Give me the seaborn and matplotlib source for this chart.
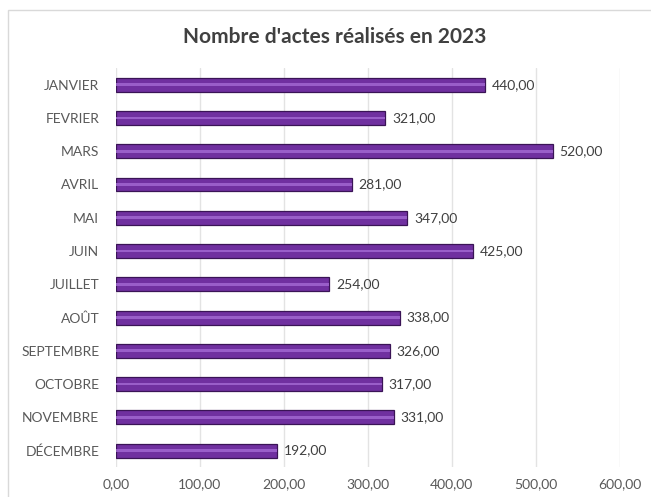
import matplotlib
matplotlib.use("Agg")
import matplotlib.pyplot as plt
import seaborn as sns
import pandas as pd
from matplotlib.patches import Rectangle

# Data
mois = ['JANVIER', 'FEVRIER', 'MARS', 'AVRIL', 'MAI', 'JUIN', 'JUILLET',
        'AOÛT', 'SEPTEMBRE', 'OCTOBRE', 'NOVEMBRE', 'DÉCEMBRE']
actes = [440, 321, 520, 281, 347, 425, 254, 338, 326, 317, 331, 192]
x_ticks = [0, 100, 200, 300, 400, 500, 600]

df = pd.DataFrame({'Mois': mois, 'Actes': actes})

sns.set_theme(style="white")
plt.rcParams['font.family'] = ['Lato', 'DejaVu Sans']

fig = plt.figure(figsize=(6.51, 4.97), dpi=100)
ax = fig.add_axes([0.178, 0.060, 0.774, 0.803])

# chart border
fig.patches.append(Rectangle((8 / 651, -0.1), 1.2, 1 - 10 / 497 + 0.1,
                             transform=fig.transFigure, fill=False,
                             edgecolor='#d9d9d9', linewidth=1))

# main bars + lighter stripe for a bit of relief
sns.barplot(data=df, x='Actes', y='Mois', orient='h', color='#7030a0',
            width=0.42, saturation=1, edgecolor='#3a1456', linewidth=0.9, ax=ax)
sns.barplot(data=df, x='Actes', y='Mois', orient='h', color='#a46ad4',
            width=0.08, saturation=1, linewidth=0, alpha=0.8, ax=ax)

for i, v in enumerate(actes):
    ax.text(v + 8, i, f"{v:.2f}".replace('.', ','), va='center', ha='left',
            fontsize=10, color='#404040')

ax.set_xlim(0, 600)
ax.set_ylim(11.5, -0.5)
ax.set_xticks(x_ticks)
ax.set_xticklabels([f"{t:.2f}".replace('.', ',') for t in x_ticks])
ax.xaxis.grid(True, color='#e3e3e3', linewidth=1)
ax.set_axisbelow(True)
for s in ax.spines.values():
    s.set_visible(False)
ax.tick_params(axis='both', length=0, labelsize=10, labelcolor='#595959')
ax.tick_params(axis='x', pad=8)
ax.tick_params(axis='y', pad=12)
ax.set_xlabel('')
ax.set_ylabel('')

fig.text(335 / 651, 1 - 37 / 497, "Nombre d'actes réalisés en 2023", ha='center',
         va='center', fontsize=15, fontweight='bold', color='#404040')

fig.savefig('out.png', dpi=100)
